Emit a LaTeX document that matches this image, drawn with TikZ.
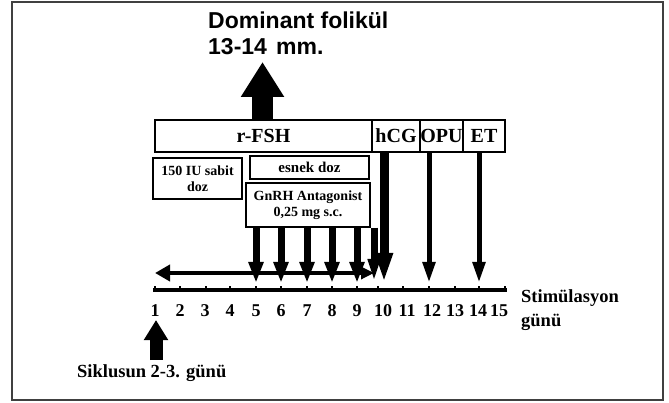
\documentclass[tikz,border=0pt]{standalone}
\usepackage{fontspec}
\setmainfont{Liberation Serif}
\setsansfont{Liberation Sans}
\usetikzlibrary{arrows.meta}
\begin{document}
\begin{tikzpicture}[x=1pt,y=-1pt,
  box/.style={draw=black, line width=1.4pt, fill=white, inner sep=0pt, minimum height=32pt,
    font=\fontsize{20}{22}\selectfont\bfseries},
  smallbox/.style={draw=black, line width=1.4pt, fill=white, inner sep=0pt, align=center,
    font=\fontsize{14}{16}\selectfont\bfseries},
  num/.style={font=\fontsize{18}{20}\selectfont\bfseries, inner sep=0pt},
  lbl/.style={font=\fontsize{18.5}{24}\selectfont\bfseries, inner sep=0pt, align=left},
  antarrow/.style={line width=7pt, -{Triangle[length=21pt,width=14pt]}},
  thinarrow/.style={line width=5pt, -{Triangle[length=21pt,width=12pt]}},
  bigarrow/.style={line width=21pt, -{Triangle[length=35pt,width=41pt]}}
]
\useasboundingbox (0,0) rectangle (669,403);
\draw[line width=1.8pt, draw=black!75] (12,2) rectangle (663,400);

% top label and arrow
\node[font=\fontsize{23}{26}\selectfont\sffamily\bfseries, anchor=north west, inner sep=0pt, align=left]
  (dom) at (208,12) {Dominant folikül\\13-14\hspace{0.4em}mm.};

% boxes
\node[box, minimum width=217pt] (rfsh) at (263.5,136) {r-FSH};
\node[box, minimum width=48pt] (hcg) at (396,136) {hCG};
\node[box, minimum width=43pt] (opu) at (441.5,136) {OPU};
\node[box, minimum width=42pt] (et) at (484,136) {ET};

\node[smallbox, minimum width=89pt, minimum height=41pt] (sabit) at (197.5,178.5) {150 IU sabit\\doz};
\node[smallbox, minimum width=119pt, minimum height=23pt, font=\fontsize{15}{17}\selectfont\bfseries] (esnek) at (309.5,167.5) {esnek doz};
\node[smallbox, minimum width=124pt, minimum height=44pt] (gnrh) at (308,205) {GnRH Antagonist\\0,25 mg s.c.};

\coordinate (dtip) at (262.5,62);
\draw[bigarrow] (rfsh.north -| dtip) -- (dtip);

% axis
\coordinate (axL) at (153,290);
\coordinate (axR) at (507,290);
\draw[line width=3pt] (axL) -- (axR);
\foreach \x [count=\i] in {155,180,206,230,256,281,307,332,357,378,403,429,455,479,505} {
  \coordinate (t\i) at (\x,283);
  \draw[line width=1.6pt] (\x,286.5) -- (\x,290);
}
\foreach \x [count=\i] in {155,180,205,230,256,281,307,332,357,383,407,432,455,478,499} {
  \node[num] (n\i) at (\x,311) {\i};
}
\node[lbl, anchor=north west] (stim) at (521,289) {Stimülasyon\\günü};

% double arrow
\coordinate (hl) at (155,273);
\coordinate (hr) at (374,273);
\draw[line width=4pt, {Triangle[length=15pt,width=16pt]}-{Triangle[length=13pt,width=12pt]}] (hl) -- (hr);

% antagonist arrows
\foreach \i in {5,6,7,8,9} {
  \draw[antarrow] (gnrh.south -| t\i) -- (t\i);
}
\coordinate (t10a) at (374,283);
\draw[line width=7pt, -{Triangle[length=24pt,width=11pt]}] (gnrh.south -| t10a) -- (t10a);

% hCG, OPU, ET arrows
\coordinate (t10b) at (384,283);
\draw[line width=9pt, -{Triangle[length=30pt,width=16pt]}] (hcg.south -| t10b) -- (t10b);
\draw[thinarrow] (opu.south -| t12) -- (t12);
\draw[thinarrow] (et.south -| t14) -- (t14);

% bottom arrow and label
\coordinate (stip) at (156,320);
\draw[line width=13pt, -{Triangle[length=20pt,width=23pt]}] (156,360) -- (stip);
\node[lbl, anchor=west] (sik) at (77,373) {Siklusun 2-3. günü};
\end{tikzpicture}
\end{document}
